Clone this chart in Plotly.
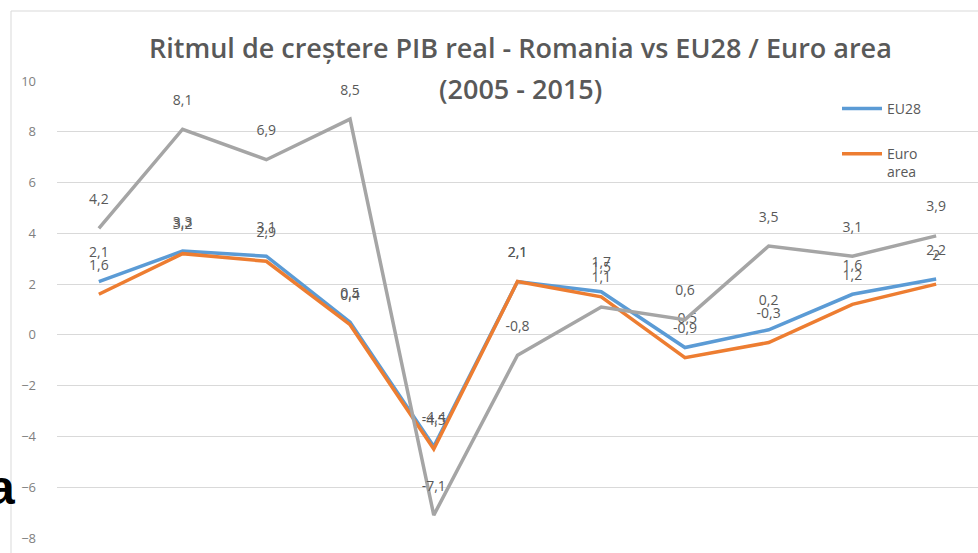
import plotly.graph_objects as go

years = ["2005", "2006", "2007", "2008", "2009", "2010", "2011", "2012", "2013", "2014", "2015"]
eu28 = [2.1, 3.3, 3.1, 0.5, -4.4, 2.1, 1.7, -0.5, 0.2, 1.6, 2.2]
euro_area = [1.6, 3.2, 2.9, 0.4, -4.5, 2.1, 1.5, -0.9, -0.3, 1.2, 2.0]
romania = [4.2, 8.1, 6.9, 8.5, -7.1, -0.8, 1.1, 0.6, 3.5, 3.1, 3.9]
y_ticks = [-8, -6, -4, -2, 0, 2, 4, 6, 8, 10]

W, H = 978, 553
ML, MR, MT, MB = 57, 0, 81, 15
PW, PH = W - ML - MR, H - MT - MB


def fmt(v):
    if float(v).is_integer():
        return str(int(v))
    return f"{v:.1f}".replace(".", ",")


def px_x(p):
    return (p - ML) / PW


def px_y(p):
    return (H - MB - p) / PH


label_font = dict(family="Open Sans", size=14, color="#595959")

fig = go.Figure()
series = [
    ("EU28", eu28, "#5B9BD5", True),
    ("Euro<br>area", euro_area, "#ED7D31", True),
    ("Romania", romania, "#A5A5A5", False),
]
for name, vals, color, show in series:
    fig.add_trace(go.Scatter(
        x=years, y=vals, name=name, legendgroup=name, mode="lines+markers+text",
        line=dict(color=color, width=3.5),
        marker=dict(size=32, color="rgba(0,0,0,0)"),
        text=[fmt(v) for v in vals], textposition="top center",
        textfont=label_font, showlegend=show, hoverinfo="skip",
        cliponaxis=False,
    ))

annotations = []
for yr in years:
    annotations.append(dict(
        x=yr, y=0, xref="x", yref="y", text=yr, showarrow=False,
        yshift=-25, font=dict(family="Open Sans", size=13, color="#7F7F7F"),
    ))
annotations.append(dict(
    x=px_x(520), y=px_y(48), xref="paper", yref="paper",
    text="Ritmul de creștere PIB real - Romania vs EU28 / Euro area",
    showarrow=False, xanchor="center", yanchor="middle",
    font=dict(family="Open Sans", size=27, color="#595959", weight=600),
))
annotations.append(dict(
    x=px_x(520), y=px_y(88), xref="paper", yref="paper",
    text="(2005 - 2015)", showarrow=False, xanchor="center", yanchor="middle",
    font=dict(family="Open Sans", size=27, color="#595959", weight=600),
))
annotations.append(dict(
    x=px_x(17), y=px_y(487), xref="paper", yref="paper", text="a",
    showarrow=False, xanchor="right", yanchor="middle",
    font=dict(family="Liberation Sans", size=48, color="#000000", weight="bold"),
))

fig.update_layout(
    width=W, height=H,
    margin=dict(l=ML, r=MR, t=MT, b=MB, pad=0),
    paper_bgcolor="white", plot_bgcolor="white",
    showlegend=True,
    legend=dict(
        x=px_x(837), y=px_y(93), xanchor="left", yanchor="top",
        xref="paper", yref="paper", valign="top",
        font=dict(family="Open Sans", size=14, color="#595959"),
        bgcolor="rgba(255,255,255,0)", tracegroupgap=24, itemwidth=40,
        traceorder="grouped",
    ),
    xaxis=dict(
        type="category", categoryorder="array", categoryarray=years,
        range=[-0.5, len(years) - 0.5], showgrid=False, showticklabels=False,
        zeroline=False, showline=False, ticks="",
    ),
    yaxis=dict(
        range=[-8, 10], tickvals=y_ticks, showgrid=True, gridcolor="#D9D9D9",
        gridwidth=1, zeroline=True, zerolinecolor="#D9D9D9", zerolinewidth=1,
        showline=False, ticks="", ticklabelstandoff=20,
        tickfont=dict(family="Open Sans", size=13, color="#7F7F7F"),
    ),
    annotations=annotations,
    shapes=[dict(
        type="rect", xref="paper", yref="paper",
        x0=px_x(11), x1=px_x(990), y0=px_y(570), y1=px_y(11),
        line=dict(color="#D9D9D9", width=1), fillcolor="rgba(0,0,0,0)",
        layer="below",
    )],
)

fig.write_html(
    "out.html",
    config={"displayModeBar": False},
    post_script="document.body.style.margin='0';document.body.style.overflow='hidden';",
)
